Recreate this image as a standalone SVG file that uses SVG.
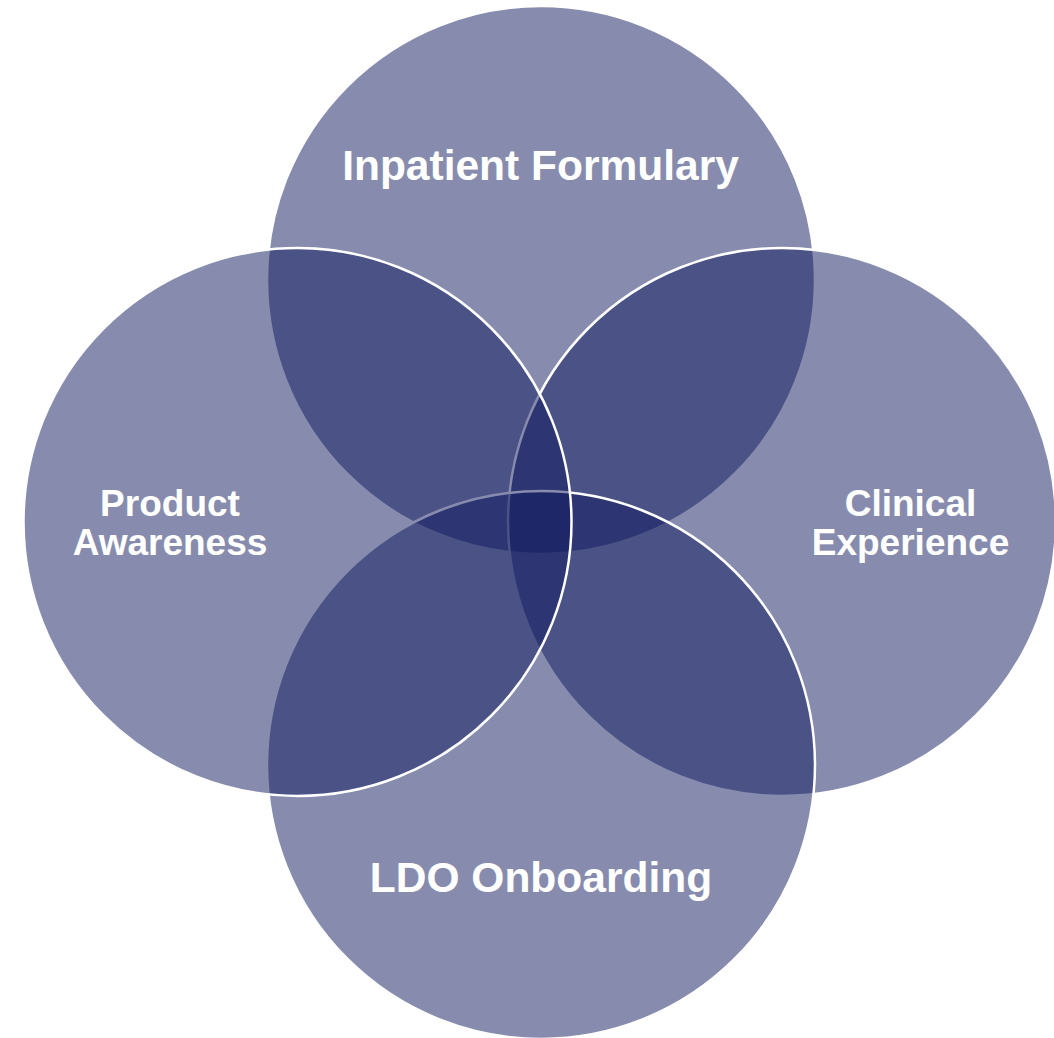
<svg xmlns="http://www.w3.org/2000/svg" width="1054" height="1038" viewBox="0 0 1054 1038">
  <style>
    .set { fill: #0F195D; fill-opacity: 0.5; stroke: #FFFFFF; stroke-width: 2.5; }
    .label { font-family: "Liberation Sans", Arial, sans-serif; font-weight: bold; fill: #FFFFFF; text-anchor: middle; }
  </style>
  <rect width="1054" height="1038" fill="#FFFFFF"/>
  <!-- four overlapping sets, drawn top, right, bottom, left -->
  <g id="inpatient-formulary">
    <circle class="set" cx="541" cy="280" r="274"/>
  </g>
  <g id="clinical-experience">
    <circle class="set" cx="782" cy="522" r="274"/>
  </g>
  <g id="ldo-onboarding">
    <circle class="set" cx="541" cy="765" r="274"/>
  </g>
  <g id="product-awareness">
    <circle class="set" cx="297.5" cy="522" r="274"/>
  </g>
  <g id="connectors"></g>
  <g id="labels">
    <text class="label" x="540.5" y="180" font-size="42.5">Inpatient Formulary</text>
    <text class="label" x="170" y="516" font-size="37">Product</text>
    <text class="label" x="170" y="555" font-size="37">Awareness</text>
    <text class="label" x="910.5" y="516" font-size="37">Clinical</text>
    <text class="label" x="910.5" y="555" font-size="37">Experience</text>
    <text class="label" x="541" y="892" font-size="42.5">LDO Onboarding</text>
  </g>
</svg>
